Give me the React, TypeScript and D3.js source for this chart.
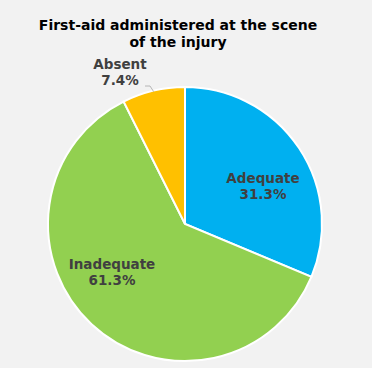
import React from "react";
import * as d3 from "d3";

const categories = ["Adequate", "Inadequate", "Absent"];
const values = [31.3, 61.3, 7.4];
const colors = ["#00b0f0", "#92d050", "#ffc000"];
const titleLines = ["First-aid administered at the scene", "of the injury"];

export default function App() {
  const W = 372, H = 368;
  const cx = 185, cy = 224, R = 137;
  const pie = d3.pie<number>().sort(null).value((d) => d)(values);
  const arc = d3.arc<d3.PieArcDatum<number>>().innerRadius(0).outerRadius(R);
  const labelPos: [number, number][] = [
    [263, 183],
    [112, 269],
    [120, 69],
  ];
  const font = "DejaVu Sans, Verdana, sans-serif";
  const absent = pie[2];
  const mid = (absent.startAngle + absent.endAngle) / 2;
  const ex = cx + Math.sin(mid) * (R - 1);
  const ey = cy - Math.cos(mid) * (R - 1);
  return (
    <svg width={W} height={H} style={{ position: "absolute", left: 0, top: 0 }}>
      <rect width={W} height={H} fill="#f2f2f2" />
      {titleLines.map((t, i) => (
        <text key={i} x={178} y={30 + i * 17} textAnchor="middle" fontFamily={font} fontWeight="bold" fontSize={14} fill="#000">
          {t}
        </text>
      ))}
      <g transform={`translate(${cx},${cy})`}>
        {pie.map((p, i) => (
          <path key={i} d={arc(p) || ""} fill={colors[i]} stroke="#fff" strokeWidth={2} />
        ))}
      </g>
      <polyline points={`145,86 150,86 ${ex},${ey}`} fill="none" stroke="#a6a6a6" strokeWidth={0.8} />
      {categories.map((c, i) => (
        <text key={c} x={labelPos[i][0]} y={labelPos[i][1]} textAnchor="middle" fontFamily={font} fontWeight="bold" fontSize={13.5} fill="#404040">
          <tspan x={labelPos[i][0]}>{c}</tspan>
          <tspan x={labelPos[i][0]} dy={16}>{values[i].toFixed(1)}%</tspan>
        </text>
      ))}
    </svg>
  );
}
